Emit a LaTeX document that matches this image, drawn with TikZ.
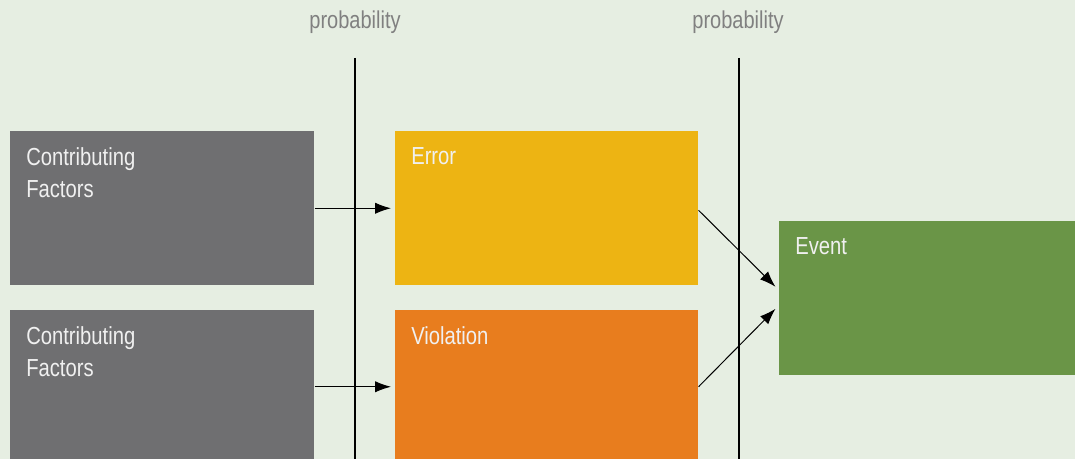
\documentclass[tikz,border=0pt]{standalone}
\usepackage{fontspec}
\setmainfont{Liberation Sans}[FakeStretch=0.82]
\usetikzlibrary{arrows.meta}
\definecolor{bgcol}{HTML}{E6EEE2}
\definecolor{cfgray}{HTML}{6F6F71}
\definecolor{errcol}{HTML}{EDB413}
\definecolor{viocol}{HTML}{E87D1E}
\definecolor{evtcol}{HTML}{6A9547}
\definecolor{probcol}{HTML}{808080}
\begin{document}
\begin{tikzpicture}[x=0.75pt, y=-0.75pt,
    box/.style={anchor=north west, inner sep=0pt, minimum width=228pt, minimum height=115.5pt},
    boxtext/.style={label={[anchor=north west, inner sep=0pt, xshift=12pt, yshift=-12pt,
        text=white!94!black, align=left, font=\fontsize{18.5}{24}\selectfont]north west:#1}},
    prob/.style={text=probcol, font=\fontsize{18.3}{22}\selectfont},
    link/.style={line width=0.75pt, -{Latex[length=12pt, width=8.5pt]}}]
  \useasboundingbox [fill=bgcol] (0,0) rectangle (1075,459);
  % probability lines
  \node [prob] (prob1) at (355,22) {probability};
  \node [prob] (prob2) at (738,22) {probability};
  \coordinate (p1top) at (355,58);
  \coordinate (p1bot) at (355,459);
  \coordinate (p2top) at (739,58);
  \coordinate (p2bot) at (739,459);
  \draw [line width=1.1pt] (p1top) -- (p1bot);
  \draw [line width=1.1pt] (p2top) -- (p2bot);
  % boxes
  \node [box, fill=cfgray, boxtext={Contributing\\Factors}] (cf1) at (10,131) {};
  \node [box, fill=cfgray, minimum height=111.75pt, boxtext={Contributing\\Factors}] (cf2) at (10,310) {};
  \node [box, fill=errcol, minimum width=227.25pt, boxtext=Error] (err) at (395,131) {};
  \node [box, fill=viocol, minimum width=227.25pt, minimum height=111.75pt, boxtext=Violation] (vio) at (395,310) {};
  \node [box, fill=evtcol, minimum width=222pt, boxtext=Event] (evt) at (779,221) {};
  % arrows
  \draw [link, shorten >=3pt] (cf1.east) -- (err.west);
  \draw [link, shorten >=3pt] ([yshift=-1.5pt]cf2.east) -- ([yshift=-1.5pt]vio.west |- cf2.east);
  \draw [link, shorten >=3.75pt] ([yshift=-1.5pt]err.east) -- ([yshift=6pt]evt.west);
  \draw [link, shorten >=3.75pt] ([yshift=-1.5pt]vio.east |- cf2.east) -- ([yshift=-5.25pt]evt.west);
\end{tikzpicture}
\end{document}
